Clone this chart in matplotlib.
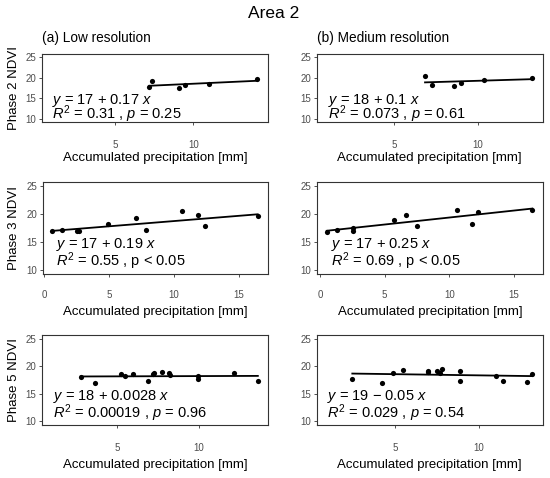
import numpy as np
import matplotlib.pyplot as plt

plt.rcParams['font.family'] = ['Liberation Sans', 'DejaVu Sans']
plt.rcParams['mathtext.fontset'] = 'custom'
plt.rcParams['mathtext.rm'] = 'Liberation Sans'
plt.rcParams['mathtext.it'] = 'Liberation Sans:italic'

# --- data ---
a1_x = [7.19, 7.34, 9.08, 9.5, 11.0, 14.08]
a1_y = [17.8, 19.1, 17.4, 18.3, 18.5, 19.6]
b1_x = [6.84, 7.28, 8.6, 8.98, 10.38, 13.26]
b1_y = [20.4, 18.25, 17.9, 18.8, 19.4, 20.0]

a2_x = [0.62, 1.39, 2.49, 2.67, 4.88, 7.04, 7.81, 10.58, 11.87, 12.38, 16.44]
a2_y = [17.0, 17.14, 17.1, 16.96, 18.27, 19.34, 17.14, 20.54, 19.82, 17.86, 19.64]
b2_x = [0.52, 1.29, 2.53, 2.58, 5.72, 6.63, 7.53, 10.62, 11.78, 12.24, 16.42]
b2_y = [16.84, 17.14, 17.56, 17.02, 19.05, 19.82, 17.86, 20.83, 18.33, 20.42, 20.83]

a3_x = [2.76, 3.63, 5.21, 5.47, 5.98, 6.9, 7.2, 7.24, 7.76, 8.18, 8.22, 9.96, 9.96, 12.15, 13.6]
a3_y = [17.98, 17.0, 18.52, 18.28, 18.52, 17.32, 18.58, 18.7, 18.88, 18.7, 18.46, 18.28, 17.68, 18.7, 17.32]
b3_x = [2.46, 4.21, 4.9, 5.5, 6.95, 6.99, 7.52, 7.68, 7.82, 8.87, 8.87, 10.99, 11.45, 12.84, 13.17]
b3_y = [17.77, 17.0, 18.8, 19.4, 19.2, 18.9, 19.2, 18.8, 19.6, 19.1, 17.3, 18.3, 17.4, 17.2, 18.6]

eq_text = [
    [r'$y$ = 17 + 0.17 $x$', r'$y$ = 18 + 0.1 $x$'],
    [r'$y$ = 17 + 0.19 $x$', r'$y$ = 17 + 0.25 $x$'],
    [r'$y$ = 18 + 0.0028 $x$', r'$y$ = 19 − 0.05 $x$'],
]
r2_text = [
    [r'$R^2$ = 0.31 , $p$ = 0.25', r'$R^2$ = 0.073 , $p$ = 0.61'],
    [r'$R^2$ = 0.55 , p < 0.05', r'$R^2$ = 0.69 , p < 0.05'],
    [r'$R^2$ = 0.00019 , $p$ = 0.96', r'$R^2$ = 0.029 , $p$ = 0.54'],
]
col_titles = ['(a) Low resolution', '(b) Medium resolution']
row_labels = ['Phase 2 NDVI', 'Phase 3 NDVI', 'Phase 5 NDVI']

data = [[(a1_x, a1_y), (b1_x, b1_y)],
        [(a2_x, a2_y), (b2_x, b2_y)],
        [(a3_x, a3_y), (b3_x, b3_y)]]

# --- layout in pixels (left, right, top, bottom) ---
W, H = 550, 478
boxes = [
    [(41.7, 268.0, 54.0, 121.7), (316.7, 542.7, 54.0, 121.7)],
    [(42.7, 268.3, 182.3, 274.3), (316.7, 543.3, 182.3, 274.3)],
    [(41.7, 268.3, 335.0, 425.0), (316.7, 542.7, 335.0, 425.0)],
]
xlims = [
    [(0.32, 14.77), (0.34, 13.9)],
    [(-0.12, 17.26), (-0.26, 17.27)],
    [(0.37, 14.24), (0.34, 13.79)],
]
xticks = [[5, 10], [0, 5, 10, 15], [5, 10]]
# text baselines above panel bottom (px) and left offset (px)
text_base = [(17.7, 2.4), (26.6, 8.6), (25.0, 6.7)]
text_left = [[10, 11], [13.3, 14.3], [11, 10]]
xlab_off = [36.3, 37.4, 40.0]
tick_pad = [10.5, 9.0, 10.5]

fig = plt.figure(figsize=(W / 100, H / 100), dpi=100)
fig.text(274 / W, 1 - 13 / H, 'Area 2', ha='center', va='center', fontsize=12.5)

for r in range(3):
    for c in range(2):
        l, rt, t, b = boxes[r][c]
        ax = fig.add_axes([l / W, 1 - b / H, (rt - l) / W, (b - t) / H])
        x, y = data[r][c]
        x = np.array(x)
        y = np.array(y)
        slope, icpt = np.polyfit(x, y, 1)
        xs = np.array([x.min(), x.max()])
        ax.plot(xs, icpt + slope * xs, color='black', lw=1.3, zorder=2)
        ax.scatter(x, y, s=14, color='black', zorder=3, linewidths=0)

        ax.set_xlim(*xlims[r][c])
        ax.set_ylim(9.25, 25.75)
        ax.set_yticks([10, 15, 20, 25])
        ax.set_xticks(xticks[r])
        for sp in ax.spines.values():
            sp.set_color('#333333')
            sp.set_linewidth(0.8)
        ax.tick_params(axis='both', length=2.5, width=0.6, color='#333333',
                       labelcolor='#4D4D4D', labelsize=7)
        ax.tick_params(axis='y', pad=1.5)
        ax.tick_params(axis='x', pad=tick_pad[r])

        ph = b - t
        pw = rt - l
        ax.set_xlabel('Accumulated precipitation [mm]', fontsize=9.5)
        ax.xaxis.set_label_coords(0.5, -xlab_off[r] / ph)
        ax.xaxis.label.set_va('center')
        if c == 0:
            ax.set_ylabel(row_labels[r], fontsize=9.5)
            ax.yaxis.set_label_coords(-(l - 14) / pw, 0.5)
            ax.yaxis.label.set_va('center')

        b1, b2 = text_base[r]
        lx = text_left[r][c]
        ax.annotate(eq_text[r][c], xy=(0, 0), xycoords='axes fraction',
                    xytext=(lx * 0.72, b1 * 0.72), textcoords='offset points',
                    va='baseline', ha='left', fontsize=10.5)
        ax.annotate(r2_text[r][c], xy=(0, 0), xycoords='axes fraction',
                    xytext=(lx * 0.72, b2 * 0.72), textcoords='offset points',
                    va='baseline', ha='left', fontsize=10.5)

        if r == 0:
            fig.text(l / W, 1 - 38 / H, col_titles[c], ha='left', va='center',
                     fontsize=9.8)

fig.savefig('out.png', dpi=100)
